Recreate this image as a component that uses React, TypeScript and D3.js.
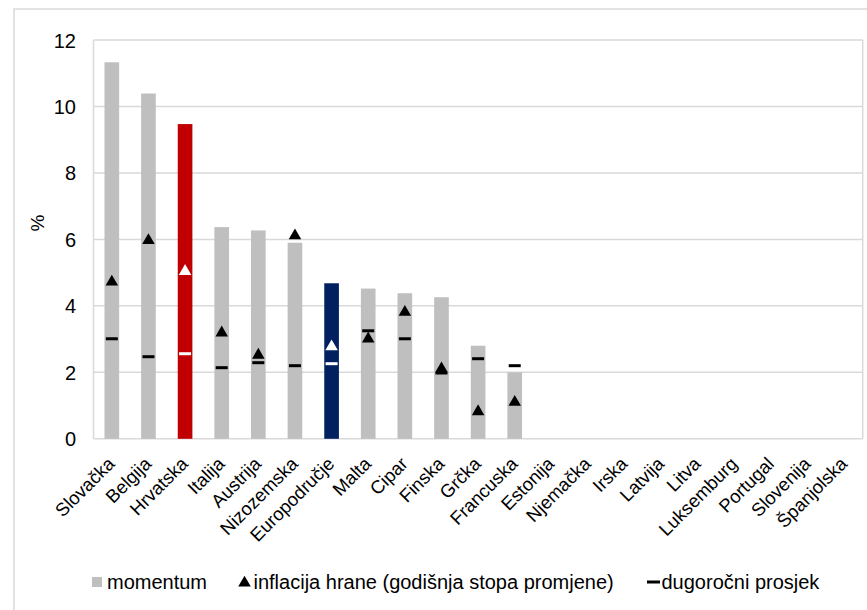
import React from "react";
import * as d3 from "d3";

const categories = [
  "Slovačka", "Belgija", "Hrvatska", "Italija", "Austrija", "Nizozemska",
  "Europodručje", "Malta", "Cipar", "Finska", "Grčka", "Francuska",
  "Estonija", "Njemačka", "Irska", "Latvija", "Litva", "Luksemburg",
  "Portugal", "Slovenija", "Španjolska",
];
const momentum: (number | null)[] = [
  11.33, 10.39, 9.47, 6.37, 6.27, 5.9, 4.68, 4.52, 4.38, 4.26, 2.8, 2.0,
  null, null, null, null, null, null, null, null, null,
];
const foodInflation: (number | null)[] = [
  4.72, 5.97, 5.04, 3.19, 2.52, 6.11, 2.77, 3.01, 3.81, 2.11, 0.82, 1.1,
  null, null, null, null, null, null, null, null, null,
];
const longRunAvg: (number | null)[] = [
  3.01, 2.47, 2.56, 2.14, 2.29, 2.2, 2.26, 3.25, 3.01, 1.98, 2.41, 2.2,
  null, null, null, null, null, null, null, null, null,
];
const yTicks = [0, 2, 4, 6, 8, 10, 12];
const legendLabels = ["momentum", "inflacija hrane (godišnja stopa promjene)", "dugoročni prosjek"];

const FONT = "'Liberation Sans', Arial, sans-serif";
const GRID = "#d9d9d9";

export default function App() {
  const W = 867, H = 610;
  const left = 93.5, right = 862.7, top = 40, bottom = 438.8;
  const x = d3.scaleBand<string>().domain(categories).range([left, right]).padding(0);
  const y = d3.scaleLinear().domain([0, 12]).range([bottom, top]);
  const bw = x.bandwidth() * 0.4;
  const tri = d3.symbol(d3.symbolTriangle, 68)() as string;

  const colorFor = (c: string) =>
    c === "Hrvatska" ? "#c00000" : c === "Europodručje" ? "#002060" : "#bfbfbf";
  const markFor = (c: string) =>
    c === "Hrvatska" || c === "Europodručje" ? "#ffffff" : "#000000";

  return (
    <svg width={W} height={H} style={{ position: "absolute", left: 0, top: 0, background: "#fff" }} fontFamily={FONT}>
      <rect x={14} y={9} width={W + 20} height={H + 20} fill="#fff" stroke={GRID} strokeWidth={1.5} />
      {/* gridlines */}
      {yTicks.map((t) => (
        <line key={t} x1={left} x2={right} y1={y(t)} y2={y(t)} stroke={GRID} strokeWidth={1.5} />
      ))}
      <line x1={left} x2={left} y1={top} y2={bottom} stroke={GRID} strokeWidth={1.5} />
      <line x1={right} x2={right} y1={top} y2={bottom} stroke={GRID} strokeWidth={1.5} />
      {/* y labels */}
      {yTicks.map((t) => (
        <text key={t} x={76} y={y(t) + 7.5} textAnchor="end" fontSize={20} fill="#000">
          {t}
        </text>
      ))}
      <text transform={`translate(44,223) rotate(-90)`} textAnchor="middle" fontSize={19} fill="#000">%</text>
      {/* bars */}
      {categories.map((c, i) =>
        momentum[i] == null ? null : (
          <rect key={c} x={(x(c) as number) + x.bandwidth() / 2 - bw / 2} y={y(momentum[i] as number)}
            width={bw} height={y(0) - y(momentum[i] as number)} fill={colorFor(c)} />
        )
      )}
      {/* long-run average dashes */}
      {categories.map((c, i) =>
        longRunAvg[i] == null ? null : (
          <rect key={c} x={(x(c) as number) + x.bandwidth() / 2 - 6} y={y(longRunAvg[i] as number) - 1.5}
            width={12} height={3} fill={markFor(c)} />
        )
      )}
      {/* food inflation triangles */}
      {categories.map((c, i) =>
        foodInflation[i] == null ? null : (
          <path key={c} d={tri}
            transform={`translate(${(x(c) as number) + x.bandwidth() / 2},${y(foodInflation[i] as number)})`}
            fill={markFor(c)} />
        )
      )}
      {/* category labels */}
      {categories.map((c) => {
        const cx = (x(c) as number) + x.bandwidth() / 2;
        return (
          <text key={c} transform={`translate(${cx + 4},${465}) rotate(-45)`} textAnchor="end" fontSize={18.5} fill="#000">
            {c}
          </text>
        );
      })}
      {/* legend */}
      <rect x={92} y={577} width={10} height={10} fill="#bfbfbf" />
      <text x={107} y={588.5} fontSize={20} fill="#000">{legendLabels[0]}</text>
      <path d={tri} transform="translate(244.5,583)" fill="#000" />
      <text x={253.5} y={588.5} fontSize={20} fill="#000">{legendLabels[1]}</text>
      <rect x={647} y={580.5} width={13} height={3} fill="#000" />
      <text x={661.5} y={588.5} fontSize={20} fill="#000">{legendLabels[2]}</text>
    </svg>
  );
}
